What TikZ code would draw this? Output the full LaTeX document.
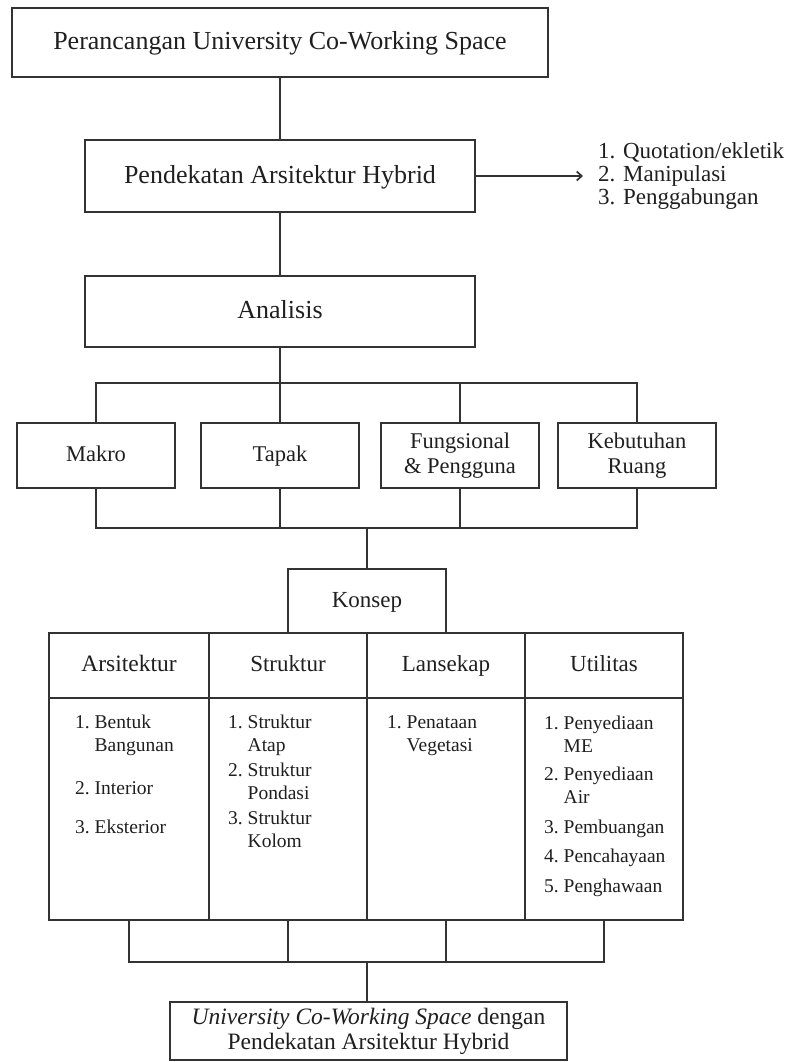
\documentclass[tikz,border=0pt]{standalone}
\usepackage{fontspec}
\setmainfont{Liberation Serif}
\usetikzlibrary{arrows.meta}

\newcommand{\setsz}[2]{\fontsize{#1}{#2}\selectfont}

\begin{document}
\begin{tikzpicture}[x=1pt,y=-1pt,>={Straight Barb[length=5pt,width=9pt]},
  box/.style={draw=black!80,line width=1.7pt,inner sep=0pt,align=center,text=black!88},
  big/.style={font=\setsz{26}{28},text height=18pt,text depth=4pt},
  mid/.style={font=\setsz{23}{25},text height=16pt,text depth=3.5pt},
  link/.style={draw=black!80,line width=1.7pt},
  sub/.style={box,minimum width=158pt,minimum height=65pt,font=\setsz{22.5}{25}},
  head/.style={box,mid,minimum width=158pt,minimum height=65pt},
  body/.style={box,minimum width=158pt,minimum height=222pt},
  lst/.style={anchor=base west,inner sep=0pt,text=black!88,font=\setsz{19.5}{23}}]
\useasboundingbox (0,0) rectangle (791,1062);

% upper chain
\node[box,big,minimum width=536pt,minimum height=69pt] (top) at (280,42.5)
  {Perancangan University Co-Working Space};
\node[box,big,minimum width=390pt,minimum height=72pt] (hyb) at (280,176)
  {Pendekatan Arsitektur Hybrid};
\node[anchor=west,align=left,inner xsep=15pt,inner ysep=0pt,text=black!88,font=\setsz{23}{23}]
  (hlist) at (583,176) {1. Quotation/ekletik\\2. Manipulasi\\3. Penggabungan};
\node[box,big,minimum width=390pt,minimum height=71pt] (ana) at (280,311.5) {Analisis};

\draw[link] (top) -- (hyb);
\draw[link,->] (hyb.east) -- (hlist.west);
\draw[link] (hyb) -- (ana);

% analisis
\node[sub,mid,font=\setsz{22.5}{25}] (makro) at (96,455.5) {Makro};
\node[sub,mid,font=\setsz{22.5}{25}] (tapak) at (280,455.5) {Tapak};
\node[sub] (fungsi) at (460,455.5) {Fungsional\\\& Pengguna};
\node[sub] (ruang) at (637,455.5) {Kebutuhan\\Ruang};
\coordinate (split) at (280,383);
\coordinate (join) at (367,528);

\draw[link] (ana) -- (split);
\draw[link] (makro.north) |- (split) -| (ruang.north);
\draw[link] (tapak.north) -- (tapak.north |- split);
\draw[link] (fungsi.north) -- (fungsi.north |- split);
\draw[link] (makro.south) |- (join) -| (ruang.south);
\draw[link] (tapak.south) -- (tapak.south |- join);
\draw[link] (fungsi.south) -- (fungsi.south |- join);

% konsep table
\node[box,mid,minimum width=158pt,minimum height=64pt] (konsep) at (367,601) {Konsep};
\draw[link] (join) -- (konsep);

\node[head,minimum width=160pt,font=\setsz{23.5}{25}] (hArs) at (129,665.5) {Arsitektur};
\node[head] (hStr) at (288,665.5) {Struktur};
\node[head] (hLan) at (446,665.5) {Lansekap};
\node[head] (hUti) at (604,665.5) {Utilitas};
\node[body,minimum width=160pt] (bArs) at (129,809) {};
\node[body] (bStr) at (288,809) {};
\node[body] (bLan) at (446,809) {};
\node[body] (bUti) at (604,809) {};

\node[lst] (lArs) at (75,728) {\begin{tabular}[t]{@{}l@{\ }l@{}}
  1.&Bentuk\\&Bangunan\\[20pt]2.&Interior\\[16pt]3.&Eksterior\end{tabular}};
\node[lst] (lStr) at (228,728) {\begin{tabular}[t]{@{}l@{\ }l@{}}
  1.&Struktur\\&Atap\\[2pt]2.&Struktur\\&Pondasi\\[2pt]3.&Struktur\\&Kolom\end{tabular}};
\node[lst] (lLan) at (387,728) {\begin{tabular}[t]{@{}l@{\ }l@{}}
  1.&Penataan\\&Vegetasi\end{tabular}};
\node[lst] (lUti) at (544,729) {\begin{tabular}[t]{@{}l@{\ }l@{}}
  1.&Penyediaan\\&ME\\[5pt]2.&Penyediaan\\&Air\\[7pt]3.&Pembuangan\\[6pt]4.&Pencahayaan\\[7pt]5.&Penghawaan\end{tabular}};

% result
\coordinate (merge) at (367,962);
\node[box,minimum width=397pt,minimum height=58pt,font=\setsz{23.5}{25}] (fin) at (368.5,1031)
  {\textit{University Co-Working Space} dengan\\Pendekatan Arsitektur Hybrid};

\draw[link] (bArs.south) |- (merge) -| (bUti.south);
\draw[link] (bStr.south) -- (bStr.south |- merge);
\draw[link] (bLan.south) -- (bLan.south |- merge);
\draw[link] (merge) -- (merge |- fin.north);
\end{tikzpicture}
\end{document}
